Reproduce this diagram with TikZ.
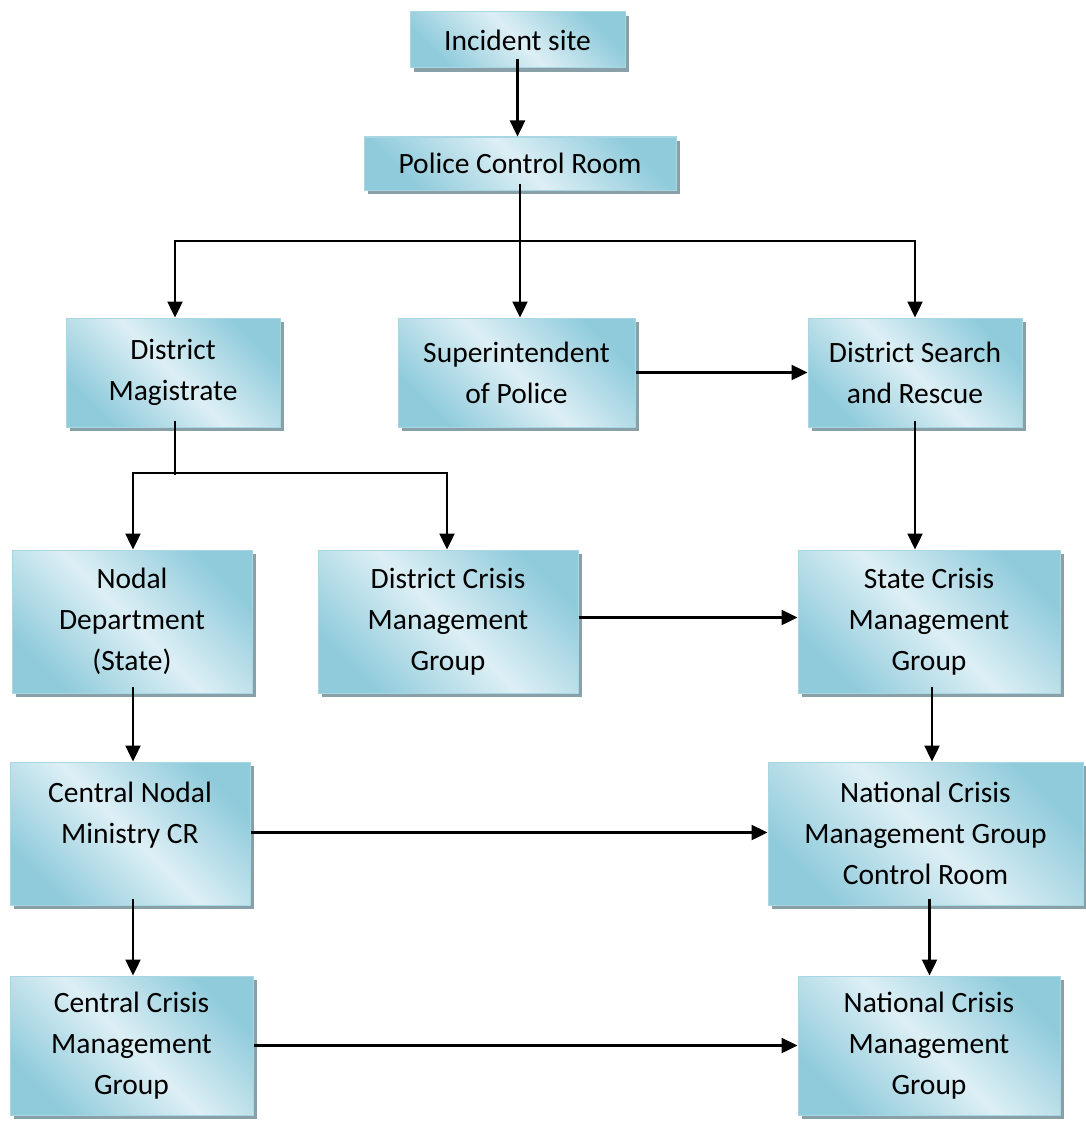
\documentclass[tikz,border=0pt]{standalone}
\usepackage{fontspec}
\setmainfont{Carlito}
\usetikzlibrary{arrows.meta,shadows}
\definecolor{boxdark}{HTML}{8FCBDB}
\definecolor{boxlight}{HTML}{DDEFF5}
\definecolor{boxedge}{HTML}{A8D6E3}
\definecolor{boxshadow}{HTML}{8AA0A8}
\tikzset{
  flowbox/.style={rectangle, inner sep=0pt, align=center,
    font=\fontsize{29.5}{41}\selectfont,
    draw=boxedge, line width=1pt,
    top color=boxdark, bottom color=boxdark, middle color=boxlight,
    shading angle=-45,
    drop shadow={shadow xshift=4pt, shadow yshift=-4pt, fill=boxshadow, opacity=1}},
  wire/.style={line width=2.4pt, black},
  arrow/.style={wire, -{Triangle[length=16pt,width=15pt]}}
}
\begin{document}
\begin{tikzpicture}[x=1pt,y=-1pt]
  \fill[white] (0,0) rectangle (1086,1121);
  \useasboundingbox (0,0) rectangle (1086,1121);

  % boxes
  \node[flowbox, minimum width=215pt, minimum height=56pt]  (inc)    at (517.5,40)    {Incident site};
  \node[flowbox, minimum width=312pt, minimum height=53pt]  (pcr)    at (520,163.5)   {Police Control Room};
  \node[flowbox, minimum width=214pt, minimum height=109pt] (dm)     at (173,372.5)   {District\\Magistrate};
  \node[flowbox, minimum width=237pt, minimum height=109pt] (sp)     at (516.5,372.5) {Superintendent\\of Police};
  \node[flowbox, minimum width=214pt, minimum height=109pt] (dsr)    at (915,372.5)   {District Search\\and Rescue};
  \node[flowbox, minimum width=240pt, minimum height=143pt] (nd)     at (132,621.5)   {Nodal\\Department\\(State)};
  \node[flowbox, minimum width=260pt, minimum height=143pt] (dcmg)   at (448,621.5)   {District Crisis\\Management\\Group};
  \node[flowbox, minimum width=262pt, minimum height=143pt] (scmg)   at (929,621.5)   {State Crisis\\Management\\Group};
  \node[flowbox, minimum width=240pt, minimum height=143pt] (cnm)    at (130,833.5)   {Central Nodal\\Ministry CR\\\mbox{}};
  \node[flowbox, minimum width=315pt, minimum height=143pt] (ncmgcr) at (925.5,833.5) {National Crisis\\Management Group\\Control Room};
  \node[flowbox, minimum width=243pt, minimum height=139pt] (ccmg)   at (131.5,1045.5){Central Crisis\\Management\\Group};
  \node[flowbox, minimum width=262pt, minimum height=139pt] (ncmg)   at (929,1045.5)  {National Crisis\\Management\\Group};

  % junction points of the branching lines
  \coordinate (busA) at (520,241);
  \coordinate (busB) at (175,473);

  % connectors
  \draw[arrow] ([yshift=9pt]inc.south) -- (inc.south |- pcr.north);
  \draw[wire]  ([yshift=7pt]pcr.south) -- (busA);
  \draw[arrow] (busA) -| ([xshift=2pt]dm.north);
  \draw[arrow] (busA) -- (busA |- sp.north);
  \draw[arrow] (busA) -| (dsr.north);
  \draw[arrow] (sp.east) -- (sp.east -| dsr.west);

  \draw[wire]  ([xshift=2pt,yshift=7pt]dm.south) -- ([yshift=-2pt]busB);
  \draw[arrow] (busB) -| ([xshift=1pt]nd.north);
  \draw[arrow] (busB) -| ([xshift=-1pt]dcmg.north);

  \draw[arrow] ([yshift=7pt]dsr.south) -- (dsr.south |- scmg.north);
  \draw[arrow] ([yshift=4pt]dcmg.east) -- ([yshift=4pt]dcmg.east -| scmg.west);

  \draw[arrow] ([xshift=1pt,yshift=7pt]nd.south) -- ([xshift=1pt]nd.south |- cnm.north);
  \draw[arrow] ([xshift=3pt,yshift=7pt]scmg.south) -- ([xshift=3pt]scmg.south |- ncmgcr.north);
  \draw[arrow] ([yshift=1pt]cnm.east) -- ([yshift=1pt]cnm.east -| ncmgcr.west);

  \draw[arrow] ([xshift=3pt,yshift=7pt]cnm.south) -- ([xshift=3pt]cnm.south |- ccmg.north);
  \draw[arrow] ([xshift=4pt,yshift=7pt]ncmgcr.south) -- ([xshift=4pt]ncmgcr.south |- ncmg.north);
  \draw[arrow] (ccmg.east) -- (ccmg.east -| ncmg.west);
\end{tikzpicture}
\end{document}
